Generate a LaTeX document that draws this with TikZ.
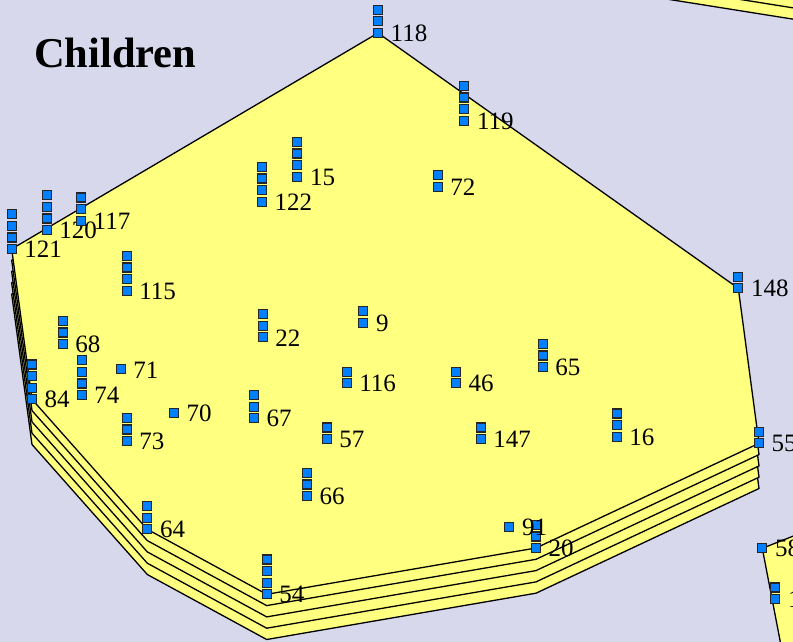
\documentclass[tikz,border=0pt]{standalone}
\usepackage{fontspec}
\setmainfont{Liberation Serif}
\definecolor{bgcol}{RGB}{216,216,236}
\definecolor{hullyellow}{RGB}{255,255,128}
\definecolor{markblue}{RGB}{0,128,255}
\tikzset{
  hull/.style={fill=hullyellow, draw=black, line width=1.3pt, line join=miter},
  mk/.style={draw=black!85, fill=markblue, line width=1.2pt, minimum size=9pt, inner sep=0pt, outer sep=0pt},
  lbl/.style={anchor=west, inner sep=0pt, font=\fontsize{25}{25}\selectfont},
  ttl/.style={anchor=base west, inner sep=0pt, font=\bfseries\fontsize{42.5}{42.5}\selectfont},
}
\newcommand\cluster[3]{%
  \foreach \k in {1,...,#2}{
    \node[mk] (#1-\k) at ([yshift={(\k-1)*11.6pt}]#1) {};
  }
  \node[lbl] (#1-lbl) at ([xshift=12.5pt,yshift=-0.5pt]#1) {#3};
}
\begin{document}
\begin{tikzpicture}[x=1pt,y=-1pt]
\useasboundingbox (0,0) rectangle (793,642);
\fill[bgcol] (0,0) rectangle (793,642);
\clip (0,0) rectangle (793,642);
% anchor points of the clusters
\coordinate (c118) at (378,33);
\coordinate (c119) at (464.3,120.7);
\coordinate (c15) at (297.3,176.7);
\coordinate (c122) at (262,201.7);
\coordinate (c72) at (437.7,186.7);
\coordinate (c121) at (11.7,249);
\coordinate (c120) at (46.7,230);
\coordinate (c117) at (81,220.7);
\coordinate (c115) at (126.7,290.7);
\coordinate (c68) at (62.7,344);
\coordinate (c74) at (81.7,395);
\coordinate (c84) at (32,399.3);
\coordinate (c71) at (120.7,369.3);
\coordinate (c73) at (126.7,441);
\coordinate (c70) at (174,413.3);
\coordinate (c22) at (262.7,337.3);
\coordinate (c9) at (363.3,322.7);
\coordinate (c116) at (346.7,383.3);
\coordinate (c67) at (254,418.3);
\coordinate (c57) at (326.7,439);
\coordinate (c46) at (456,383.3);
\coordinate (c65) at (542.7,367);
\coordinate (c147) at (480.7,439);
\coordinate (c16) at (616.7,436.7);
\coordinate (c148) at (738.3,288.3);
\coordinate (c55) at (759,443.3);
\coordinate (c66) at (307,496);
\coordinate (c64) at (147.3,529.3);
\coordinate (c54) at (266.7,594.3);
\coordinate (c91) at (509.3,526.7);
\coordinate (c20) at (536,548);
\coordinate (c58) at (762.3,548.3);
\coordinate (c1) at (775.3,599);
% off-picture hull corners
\coordinate (tra) at (650,-14.9);
\coordinate (trb) at (850,16.9);
\coordinate (trc) at (850,-80);
\coordinate (trd) at (650,-80);
\coordinate (bra) at (850,513.7);
\coordinate (brb) at (850,700);
\coordinate (brc) at (791.5,700);
% top-right hull (two layers)
\foreach \L in {1,0}{
  \draw[hull] ([yshift={-\L*11.3pt}]tra) -- ([yshift={-\L*11.3pt}]trb) -- ([yshift={-\L*11.3pt}]trc) -- ([yshift={-\L*11.3pt}]trd) -- cycle;
}
% bottom-right hull
\draw[hull] (c58) -- (bra) -- (brb) -- (brc) -- cycle;
% main hull (stacked layers)
\foreach \L in {4,3,2,1,0}{
  \draw[hull] ([yshift={-\L*11.3pt}]c121) -- ([yshift={-\L*11.3pt}]c118) -- ([yshift={-\L*11.3pt}]c148) -- ([yshift={-\L*11.3pt}]c55) -- ([yshift={-\L*11.3pt}]c20) -- ([yshift={-\L*11.3pt}]c54) -- ([yshift={-\L*11.3pt}]c64) -- ([yshift={-\L*11.3pt}]c84) -- cycle;
}
% clusters
\cluster{c118}{3}{118}
\cluster{c119}{4}{119}
\cluster{c15}{4}{15}
\cluster{c122}{4}{122}
\cluster{c72}{2}{72}
\cluster{c121}{4}{121}
\cluster{c120}{4}{120}
\cluster{c117}{3}{117}
\cluster{c115}{4}{115}
\cluster{c68}{3}{68}
\cluster{c74}{4}{74}
\cluster{c84}{4}{84}
\cluster{c71}{1}{71}
\cluster{c73}{3}{73}
\cluster{c70}{1}{70}
\cluster{c22}{3}{22}
\cluster{c9}{2}{9}
\cluster{c116}{2}{116}
\cluster{c67}{3}{67}
\cluster{c57}{2}{57}
\cluster{c46}{2}{46}
\cluster{c65}{3}{65}
\cluster{c147}{2}{147}
\cluster{c16}{3}{16}
\cluster{c148}{2}{148}
\cluster{c55}{2}{55}
\cluster{c66}{3}{66}
\cluster{c64}{3}{64}
\cluster{c54}{4}{54}
\cluster{c20}{3}{20}
\cluster{c91}{1}{91}
\cluster{c58}{1}{58}
\cluster{c1}{2}{1}
% title
\node[ttl] (title) at (34,67) {Children};
\end{tikzpicture}
\end{document}
